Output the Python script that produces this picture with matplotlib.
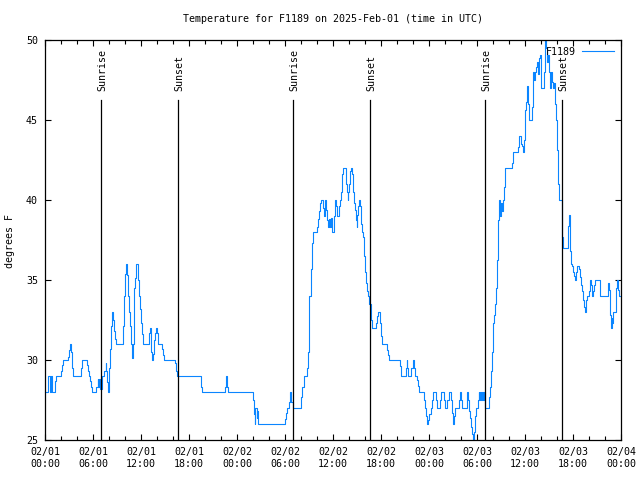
import matplotlib
matplotlib.use('Agg')
import matplotlib.pyplot as plt
from matplotlib.ticker import MultipleLocator

# hours since 2025-02-01 00:00 UTC and temperature (F)
hours = [
    0.0, 0.4, 0.6, 0.75, 0.9, 1.25, 1.4, 1.95, 2.1, 2.2, 2.9, 3.05, 3.15, 3.2, 3.3, 3.4, 3.5,
    4.5, 4.65, 5.2, 5.35, 5.45, 5.6, 5.75, 5.9, 6.35, 6.6, 6.65, 6.75, 6.9, 7.1, 7.4, 7.6,
    7.65, 7.8, 7.9, 8.05, 8.15, 8.3, 8.4, 8.5, 8.65, 8.8, 8.9, 9.75, 9.85, 10.0, 10.1, 10.15,
    10.25, 10.35, 10.5, 10.65, 10.75, 10.9, 11.0, 11.1, 11.15, 11.25, 11.4, 11.6, 11.75, 11.9,
    12.0, 12.1, 12.2, 12.96, 13.125, 13.25, 13.375, 13.46, 13.625, 13.75, 13.875, 13.96, 14.08,
    14.625, 14.79, 14.875, 16.29, 16.375, 16.46, 19.54, 19.67, 22.46, 22.58, 22.71, 22.83,
    25.96, 26.125, 26.21, 26.29, 26.46, 26.54, 26.67, 29.96, 30.08, 30.25, 30.46, 30.58,
    30.625, 30.79, 30.96, 31.96, 32.125, 32.375, 32.71, 32.83, 32.96, 33.04, 33.2, 33.33,
    33.46, 34.0, 34.08, 34.21, 34.33, 34.46, 34.71, 34.83, 34.96, 35.04, 35.17, 35.29, 35.42,
    35.5, 35.58, 35.71, 35.83, 35.92, 36.17, 36.29, 36.375, 36.5, 36.79, 36.92, 37.0, 37.08,
    37.17, 37.25, 37.58, 37.67, 37.75, 37.83, 37.92, 38.0, 38.08, 38.17, 38.25, 38.33, 38.46,
    38.54, 38.67, 38.75, 38.875, 38.96, 39.04, 39.125, 39.25, 39.33, 39.46, 39.58, 39.71,
    39.83, 39.92, 40.04, 40.17, 40.29, 40.375, 40.54, 40.75, 40.83, 41.33, 41.46, 41.625,
    41.875, 42.0, 42.125, 42.79, 42.875, 43.04, 44.375, 44.5, 45.08, 45.2, 45.29, 45.42,
    45.71, 45.96, 46.08, 46.21, 46.46, 46.58, 46.71, 47.375, 47.5, 47.625, 47.79, 47.92,
    48.04, 48.2, 48.33, 48.46, 48.875, 49.0, 49.33, 49.5, 49.83, 50.04, 50.29, 50.54, 50.75,
    50.92, 51.04, 51.17, 51.29, 51.79, 51.875, 51.96, 52.08, 52.71, 52.79, 52.875, 53.04,
    53.17, 53.29, 53.42, 53.5, 53.58, 53.71, 53.83, 54.08, 54.2, 54.29, 54.42, 54.54, 54.67,
    54.79, 54.875, 54.96, 55.54, 55.625, 55.75, 55.875, 55.96, 56.04, 56.17, 56.29, 56.42,
    56.54, 56.67, 56.79, 56.875, 56.96, 57.08, 57.2, 57.33, 57.46, 57.54, 58.375, 58.46,
    58.54, 59.125, 59.25, 59.54, 59.67, 59.79, 59.875, 59.96, 60.04, 60.17, 60.29, 60.42,
    60.54, 60.875, 60.96, 61.04, 61.17, 61.25, 61.375, 61.46, 61.58, 61.71, 61.83, 61.96,
    62.04, 62.375, 62.46, 62.54, 62.67, 62.79, 62.92, 63.0, 63.08, 63.2, 63.29, 63.375, 63.5,
    63.58, 63.71, 63.83, 63.96, 64.08, 64.25, 64.58, 64.67, 64.75, 65.33, 65.42, 65.5, 65.58,
    65.67, 65.75, 65.92, 66.0, 66.17, 66.25, 66.375, 66.46, 66.75, 66.83, 67.0, 67.17, 67.29,
    67.42, 67.5, 67.58, 67.67, 67.75, 68.0, 68.08, 68.17, 68.25, 68.33, 68.42, 68.5, 68.625,
    68.75, 69.33, 69.42, 70.33, 70.42, 70.5, 70.58, 70.67, 70.75, 70.83, 70.92, 71.04, 71.33,
    71.42, 71.5, 71.58, 71.67, 71.75, 71.9,
]
temps = [
    28, 29, 28, 29, 28, 28.7, 29, 29.3, 29.7, 30, 30.2, 30.6, 31, 30.6, 30.5, 29.5, 29,
    29.5, 30, 29.7, 29.3, 29, 28.7, 28.3, 28, 28.3, 28.8, 28.3, 28.8, 28.2, 29, 29.3, 29.8,
    29.3, 28.6, 28, 29.5, 30.7, 32.1, 33, 32.5, 31.8, 31.3, 31, 32.1, 34, 35.4, 35.7, 36,
    35.3, 34, 33, 32.1, 31, 30.1, 31, 33, 34.5, 35.1, 36, 35, 34, 33.2,
    32.3, 31.6, 31, 31.7, 32, 30.5, 30, 30.4, 31.25, 31.7, 32, 31.7, 31,
    30.7, 30.3, 30, 29.8, 29.3, 29, 28.3, 28, 28.3, 29, 28.3, 28,
    27.5, 26.6, 26, 27, 26.4, 26.8, 26, 26.3, 26.7, 27, 27.4, 27.75,
    28, 27.4, 27, 27.7, 28.3, 29, 29.5, 30.5, 32, 34, 35.7, 37.3,
    38, 38.3, 38.8, 39.3, 39.8, 40, 39.5, 39, 39.8, 40, 39.4, 38.75, 38.3,
    38.8, 38.3, 38.85, 38.3, 38, 39, 40, 39.6, 39, 39.6, 40, 40.5, 41,
    41.6, 42, 41.6, 41, 40.5, 40, 40.5, 41, 41.6, 41.8, 42, 41.6, 41,
    40.5, 39.8, 39.4, 38.75, 38.3, 39.06, 39.6, 40, 39.6, 38.5, 38, 37.7,
    37.1, 36.5, 35.5, 34.8, 34.3, 34, 33.5, 32.5, 32, 32.3, 32.75, 33,
    32.3, 31.5, 31, 30.6, 30.3, 30, 29.6, 29, 29.5, 30, 29.5, 29,
    29.5, 30, 29.5, 29, 28.75, 28.4, 28, 27.5, 27, 26.5, 26, 26.25,
    26.6, 27, 27.5, 28, 27.5, 27, 27.5, 28, 27.5, 27, 27.5, 28, 27.5,
    26.7, 26, 26.5, 27, 27.5, 28, 27.5, 27, 27.5, 28, 27.5, 26.8,
    26.35, 25.8, 25.4, 25, 25.5, 26.5, 27, 27.5, 28, 27.5, 28, 27.5, 28,
    27.5, 28, 27, 27.7, 28.3, 29.3, 30.5, 31.6, 32.3, 32.8, 33.5, 34.5,
    36.25, 38.75, 40, 39, 39.8, 39.3, 40, 40.8, 41.56, 42, 42.3, 42.8,
    43, 43.3, 44, 43.5, 43.4, 43, 43.75, 44.6, 45.6, 46.15, 47.1, 46,
    45, 45.8, 47.3, 48, 47.5, 48, 48.3, 48.65, 47.9, 48.85, 49.06, 47.9,
    47, 48, 49.06, 50, 49.5, 48.65, 49.06, 48, 47, 47.7, 48, 47.4, 47,
    47.3, 46, 45, 43.1, 41, 40, 39.3, 37.7, 37, 37.5, 38.4, 39.06, 38.2,
    36.8, 36, 35.9, 35.5, 35.25, 35, 35.5, 35.9, 35.7, 35.2, 34.7, 34.3, 33.75,
    33.3, 33, 33.3, 33.75, 34, 34.3, 34.7, 35, 34.7, 34.3, 34, 34.3, 34.7,
    35, 34.7, 34, 34.4, 34.8, 34.4, 34, 32.8, 32, 32.6, 32.3, 33, 33.5,
    34.5, 35, 34.7, 34.4, 34, 34,
]

sun_hours = [7.0, 16.625, 31.0, 40.625, 55.0, 64.625]
sun_labels = ['Sunrise', 'Sunset', 'Sunrise', 'Sunset', 'Sunrise', 'Sunset']

tick_hours = list(range(0, 73, 6))
tick_labels = ['02/01\n00:00', '02/01\n06:00', '02/01\n12:00', '02/01\n18:00',
               '02/02\n00:00', '02/02\n06:00', '02/02\n12:00', '02/02\n18:00',
               '02/03\n00:00', '02/03\n06:00', '02/03\n12:00', '02/03\n18:00',
               '02/04\n00:00']

plt.rcParams['font.family'] = 'DejaVu Sans Mono'
fs = 7.2

fig = plt.figure(figsize=(6.4, 4.8), dpi=100)
ax = fig.add_axes([45 / 640, 40 / 480, 576 / 640, 400 / 480])

ax.plot(hours, temps, drawstyle='steps-post', color='#0a85ff', lw=0.8, label='F1189')

for h, lab in zip(sun_hours, sun_labels):
    ax.plot([h, h], [25, 46.25], color='black', lw=0.9)
    ax.text(h + 0.15, 46.8, lab, rotation=90, ha='center', va='bottom', fontsize=fs)

ax.set_xlim(0, 72)
ax.set_ylim(25, 50)
ax.set_xticks(tick_hours)
ax.set_xticklabels(tick_labels, fontsize=fs, linespacing=1.25)
ax.xaxis.set_minor_locator(MultipleLocator(2))
ax.set_yticks([25, 30, 35, 40, 45, 50])
ax.tick_params(axis='y', labelsize=fs)
ax.tick_params(which='both', direction='in', top=True, right=True, width=0.8)
ax.tick_params(which='major', length=4.5, pad=5)
ax.tick_params(which='minor', length=3)
for s in ax.spines.values():
    s.set_linewidth(0.9)

leg = ax.legend(loc='upper right', frameon=False, markerfirst=False, fontsize=fs,
                handlelength=3.2, borderaxespad=0.3, handletextpad=0.6)

fig.text(333 / 640, 1 - 19 / 480, 'Temperature for F1189 on 2025-Feb-01 (time in UTC)',
         ha='center', va='center', fontsize=fs)
fig.text(10 / 640, 1 - 241 / 480, 'degrees F', rotation=90, ha='center', va='center', fontsize=fs)

fig.savefig('out.png', dpi=100)
